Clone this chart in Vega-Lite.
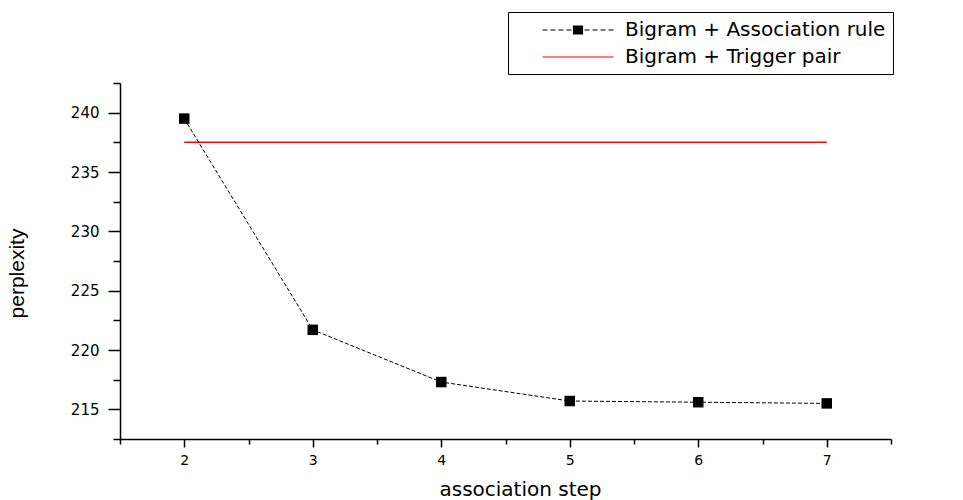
{
  "$schema": "https://vega.github.io/schema/vega-lite/v6.json",
  "width": 771,
  "height": 356,
  "autosize": "none",
  "padding": {"left": 120, "top": 83, "right": 72, "bottom": 61},
  "background": "white",
  "config": {
    "view": {"stroke": null},
    "font": "DejaVu Sans",
    "axis": {
      "grid": false,
      "domainColor": "black",
      "domainWidth": 1.5,
      "tickColor": "black",
      "tickWidth": 1.5,
      "labelColor": "black",
      "titleColor": "black",
      "titleFontWeight": "normal",
      "labelFlush": false,
      "labelOverlap": false
    }
  },
  "data": {
    "values": [
      {"step": 2, "perplexity": 239.5, "series": "Bigram + Association rule"},
      {"step": 3, "perplexity": 221.7, "series": "Bigram + Association rule"},
      {"step": 4, "perplexity": 217.3, "series": "Bigram + Association rule"},
      {"step": 5, "perplexity": 215.7, "series": "Bigram + Association rule"},
      {"step": 6, "perplexity": 215.6, "series": "Bigram + Association rule"},
      {"step": 7, "perplexity": 215.5, "series": "Bigram + Association rule"},
      {"step": 2, "perplexity": 237.5, "series": "Bigram + Trigger pair"},
      {"step": 7, "perplexity": 237.5, "series": "Bigram + Trigger pair"}
    ]
  },
  "encoding": {
    "x": {
      "field": "step",
      "type": "quantitative",
      "scale": {"domain": [1.5, 7.5], "nice": false, "zero": false},
      "axis": {
        "values": [1.5, 2, 2.5, 3, 3.5, 4, 4.5, 5, 5.5, 6, 6.5, 7, 7.5],
        "format": "~g",
        "labelExpr": "datum.value % 1 === 0 ? datum.label : ''",
        "tickSize": {"condition": {"test": "datum.value % 1 === 0", "value": 8}, "value": 5},
        "labelFontSize": 14,
        "labelPadding": 6,
        "title": "association step",
        "titleFontSize": 20,
        "titleX": 400,
        "titleY": 56,
        "titleBaseline": "alphabetic"
      }
    },
    "y": {
      "field": "perplexity",
      "type": "quantitative",
      "scale": {"domain": [212.5, 242.5], "nice": false, "zero": false},
      "axis": {
        "values": [212.5, 215, 217.5, 220, 222.5, 225, 227.5, 230, 232.5, 235, 237.5, 240, 242.5],
        "format": "~g",
        "labelExpr": "datum.value % 5 === 0 ? datum.label : ''",
        "tickSize": {"condition": {"test": "datum.value % 5 === 0", "value": 12}, "value": 7},
        "labelFontSize": 15,
        "labelPadding": 9,
        "title": "perplexity",
        "titleFont": "Liberation Sans",
        "titleFontSize": 21,
        "titleX": -93,
        "titleY": 190
      }
    }
  },
  "layer": [
    {
      "transform": [{"filter": "datum.series === 'Bigram + Trigger pair'"}],
      "mark": {"type": "line", "color": "#ff0000", "strokeWidth": 1.5}
    },
    {
      "transform": [{"filter": "datum.series === 'Bigram + Association rule'"}],
      "mark": {"type": "line", "color": "black", "strokeWidth": 1, "strokeDash": [4, 2]}
    },
    {
      "transform": [{"filter": "datum.series === 'Bigram + Association rule'"}],
      "mark": {"type": "point", "shape": "square", "filled": true, "color": "black", "size": 110, "opacity": 1}
    },
    {
      "transform": [{"filter": "false"}],
      "mark": {"type": "point", "strokeWidth": 1.2, "opacity": 1, "size": 400},
      "encoding": {
        "shape": {
          "field": "series",
          "type": "nominal",
          "scale": {
            "domain": ["Bigram + Association rule", "Bigram + Trigger pair"],
            "range": [
              "M-3.55,0H-3.05M-2.75,0H-2.25M-1.95,0H-1.45M-1.15,0H-0.65M-0.45,-0.4H0.45V0.4H-0.45ZM0.65,0H1.15M1.45,0H1.95M2.25,0H2.75M3.05,0H3.55",
              "M-3.55,0H3.55"
            ]
          },
          "legend": {
            "orient": "none", "legendX": 388, "legendY": -71, "title": null,
            "strokeColor": "black", "fillColor": "white", "padding": 7,
            "symbolOffset": 52, "symbolSize": 400, "symbolStrokeWidth": 1.2,
            "labelFont": "DejaVu Sans", "labelFontSize": 20, "labelColor": "black",
            "labelOffset": 36, "labelLimit": 500, "rowPadding": 6
          }
        },
        "fill": {
          "field": "series",
          "type": "nominal",
          "scale": {"domain": ["Bigram + Association rule", "Bigram + Trigger pair"], "range": ["black", "#ff0000"]},
          "legend": {
            "orient": "none", "legendX": 388, "legendY": -71, "title": null,
            "strokeColor": "black", "fillColor": "white", "padding": 7,
            "symbolOffset": 52, "symbolSize": 400, "symbolStrokeWidth": 1.2,
            "labelFont": "DejaVu Sans", "labelFontSize": 20, "labelColor": "black",
            "labelOffset": 36, "labelLimit": 500, "rowPadding": 6
          }
        },
        "stroke": {
          "field": "series",
          "type": "nominal",
          "scale": {"domain": ["Bigram + Association rule", "Bigram + Trigger pair"], "range": ["black", "#ff0000"]},
          "legend": {
            "orient": "none", "legendX": 388, "legendY": -71, "title": null,
            "strokeColor": "black", "fillColor": "white", "padding": 7,
            "symbolOffset": 52, "symbolSize": 400, "symbolStrokeWidth": 1.2,
            "labelFont": "DejaVu Sans", "labelFontSize": 20, "labelColor": "black",
            "labelOffset": 36, "labelLimit": 500, "rowPadding": 6
          }
        }
      }
    }
  ]
}
